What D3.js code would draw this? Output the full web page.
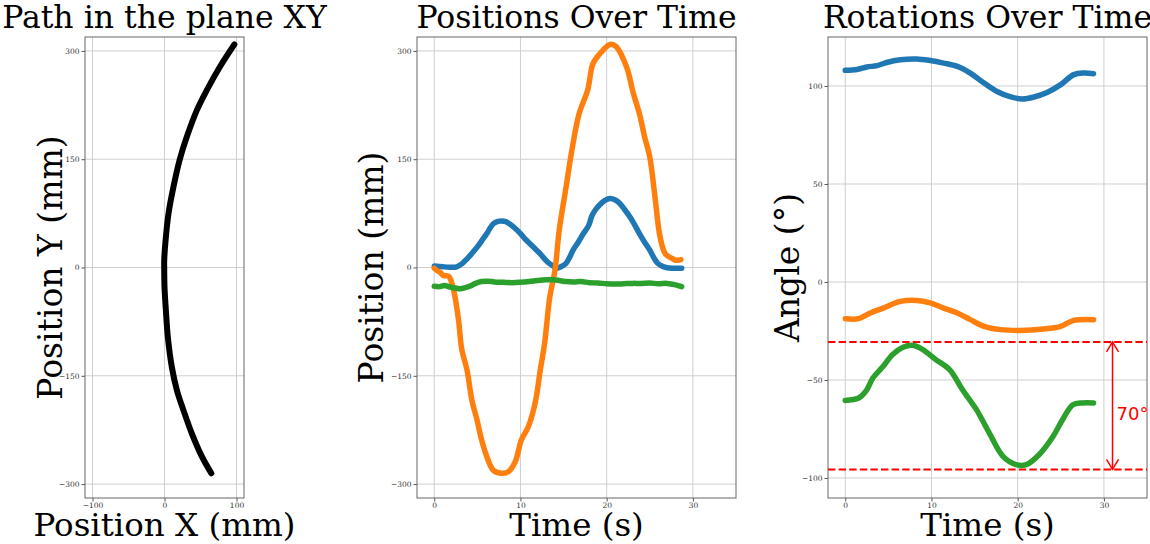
<!DOCTYPE html>
<html lang="en">
<head>
<meta charset="UTF-8">
<title>path positions rotations</title>
<script src="https://cdn.jsdelivr.net/npm/d3@7"></script>
<style>
  body { margin: 0; background: #fff; }
  svg { display: block; }
</style>
</head>
<body>
<svg></svg>
<script>
// ---- data ----
// path in XY plane (mm)
var pathX = [97, 77, 59, 45, 31, 21, 12.5, 5.6, 1.9, -0.4, -0.4, 0, 1.9, 4.6, 10.2, 17.2, 26.4, 38, 52, 65];
var pathY = [309, 278, 246, 218, 181, 149, 112, 75, 42, 10, 1, -27, -59, -96, -138, -170, -198, -230, -262, -285];

// positions over time
var posXTime = [0, 1, 1.8, 2.6, 3.2, 3.8, 4.4, 5.0, 5.5, 6.1, 6.5, 6.9, 7.4, 7.8, 8.3, 8.8, 9.4, 10.0, 10.5, 11.1, 11.7, 12.3, 12.8, 13.3, 13.8, 14.1, 14.6, 15.0, 15.3, 15.7, 16.1, 16.7, 17.3, 17.9, 18.3, 18.7, 19.2, 19.8, 20.4, 21.0, 21.5, 22.1, 22.7, 23.3, 23.8, 24.4, 25.0, 25.5, 25.9, 26.4, 26.9, 27.6, 28.7];
var posX = [2, 1, 0.5, 1, 5, 12, 20, 28.5, 37, 47, 55, 61, 64, 64.5, 63.5, 60, 54, 47, 40, 33, 26, 19, 12, 6, 2, -1, 0.5, 3, 6, 14, 24, 35, 47, 58, 72, 80, 87, 93, 95.5, 93.5, 89, 80, 70, 58, 47, 35, 24, 13, 6, 2, 0, -1, -1];

var posYTime = [0, 0.3, 0.7, 1.07, 1.66, 2.05, 2.44, 2.82, 3.2, 3.8, 4.37, 4.96, 5.5, 6.1, 6.86, 7.83, 8.6, 9.4, 10.1, 10.9, 11.7, 12.3, 12.8, 13.4, 14.0, 14.5, 15.3, 15.9, 16.8, 17.8, 18.4, 19.2, 20.4, 21.1, 22.3, 23.1, 23.8, 24.4, 25.0, 25.6, 26.2, 26.8, 27.6, 28.0, 28.6];
var posY = [-1, -4, -7, -11, -12, -22, -43, -73, -114, -142, -184, -211, -239, -262, -281, -285, -283, -269, -239, -221, -188, -142, -105, -41, -4, 52, 112, 158, 213, 246, 282, 296, 309, 306, 278, 241, 213, 181, 153, 98, 42, 19, 12.5, 10, 11];

var posZTime = [0, 0.6, 1.2, 1.8, 2.4, 3, 3.6, 4.2, 4.8, 5.5, 6.2, 7, 8, 9, 10, 11, 12, 13, 13.8, 14.5, 15.3, 16.2, 17, 18, 19, 20, 21, 22, 23, 24, 25, 26, 27, 28, 28.7];
var posZ = [-26, -26.5, -25, -27, -28.5, -29.5, -28, -25.5, -22, -19.5, -19, -20, -20.5, -21, -20.5, -19.5, -18, -17, -17, -18, -19.5, -20, -19.5, -21, -21.5, -22.5, -23, -22.5, -22, -22, -21.5, -22.5, -22, -24, -26.5];

// rotations over time (degrees)
var rotXTime = [0, 1.35, 2.5, 3.7, 4.8, 6.4, 8.3, 9.85, 11.4, 13.0, 14.5, 16.1, 17.6, 19.2, 20.5, 21.9, 23.4, 25.0, 26.5, 27.7, 28.8];
var rotX = [108, 108.4, 109.7, 110.4, 112, 113.4, 113.8, 113, 111.7, 110, 106.6, 101.5, 97.2, 94.4, 93.4, 94.4, 96.7, 100.7, 105.8, 106.6, 106.3];

var rotYTime = [0, 1.55, 2.9, 4.4, 6.4, 8.3, 9.85, 11.4, 13.0, 14.5, 16.1, 18.0, 20.3, 23.0, 25.0, 26.5, 28.8];
var rotY = [-18.7, -18.7, -15.8, -13.3, -9.9, -9.4, -10.7, -13.3, -15.8, -19.2, -22.6, -24.3, -24.7, -24, -22.6, -19.6, -19.2];

var rotZTime = [0, 1.55, 2.5, 3.2, 4.4, 5.5, 6.7, 7.8, 9.0, 10.5, 12.1, 13.6, 15.2, 16.7, 18.3, 19.8, 21.0, 22.5, 24.1, 25.2, 26.4, 27.5, 28.8];
var rotZ = [-60.4, -59.2, -55, -49, -43, -37, -33.3, -32.3, -34.5, -39.6, -44.7, -55, -65, -77, -89, -93.2, -93.2, -88, -78.8, -70.3, -62.6, -61.7, -61.7];

// range annotation on the rotation plot
var rangeLines = [-30.6, -95.6];
var rangeArrowTime = 31;
var rangeLabel = '70°';
var rangeLabelAt = -67;

var seriesColors = ['#1f77b4', '#ff7f0e', '#2ca02c'];

// ---- drawing ----
var svg = d3.select('svg').attr('width', 1150).attr('height', 544);

function makePanel(p) {
  var x = d3.scaleLinear().domain(p.xDomain).range([p.left, p.right]);
  var y = d3.scaleLinear().domain(p.yDomain).range([p.bottom, p.top]);
  var g = svg.append('g');

  // grid
  g.append('g').selectAll('line').data(p.xTicks).enter().append('line')
    .attr('x1', function(d) { return x(d); }).attr('x2', function(d) { return x(d); })
    .attr('y1', p.top).attr('y2', p.bottom)
    .attr('stroke', '#cfcfcf').attr('stroke-width', 1);
  g.append('g').selectAll('line').data(p.yTicks).enter().append('line')
    .attr('y1', function(d) { return y(d); }).attr('y2', function(d) { return y(d); })
    .attr('x1', p.left).attr('x2', p.right)
    .attr('stroke', '#cfcfcf').attr('stroke-width', 1);

  var ax = g.append('g')
    .attr('transform', 'translate(0,' + p.bottom + ')')
    .call(d3.axisBottom(x).tickValues(p.xTicks).tickSize(3.5).tickPadding(1));
  var ay = g.append('g')
    .attr('transform', 'translate(' + p.left + ',0)')
    .call(d3.axisLeft(y).tickValues(p.yTicks).tickSize(3.5).tickPadding(2));
  [ax, ay].forEach(function(a) {
    a.select('.domain').remove();
    a.selectAll('line').attr('stroke', '#555');
    a.selectAll('text').attr('fill', '#333')
      .style('font-family', 'DejaVu Serif').style('font-size', '7.5px');
  });

  // frame
  g.append('rect')
    .attr('x', p.left).attr('y', p.top)
    .attr('width', p.right - p.left).attr('height', p.bottom - p.top)
    .attr('fill', 'none').attr('stroke', '#666').attr('stroke-width', 1);

  // title and axis labels
  var cx = (p.left + p.right) / 2;
  svg.append('text').attr('x', cx).attr('y', 28)
    .attr('text-anchor', 'middle')
    .style('font-family', 'DejaVu Serif').style('font-size', '31.5px')
    .text(p.title);
  svg.append('text').attr('x', cx).attr('y', 536)
    .attr('text-anchor', 'middle')
    .style('font-family', 'DejaVu Serif').style('font-size', '32.5px')
    .text(p.xLabel);
  svg.append('text')
    .attr('transform', 'translate(' + p.yLabelX + ',' + ((p.top + p.bottom) / 2) + ') rotate(-90)')
    .attr('text-anchor', 'middle')
    .style('font-family', 'DejaVu Serif').style('font-size', '33px')
    .text(p.yLabel);

  return { x: x, y: y, g: g };
}

function drawLine(panel, xs, ys, color, width) {
  var pts = xs.map(function(d, i) { return [d, ys[i]]; });
  var line = d3.line()
    .x(function(d) { return panel.x(d[0]); })
    .y(function(d) { return panel.y(d[1]); })
    .curve(d3.curveCatmullRom);
  panel.g.append('path')
    .datum(pts)
    .attr('fill', 'none')
    .attr('stroke', color)
    .attr('stroke-width', width)
    .attr('stroke-linejoin', 'round')
    .attr('stroke-linecap', 'round')
    .attr('d', line);
}

// panel 1: path in the plane
var p1 = makePanel({
  left: 85, right: 244, top: 37, bottom: 498,
  xDomain: [-110.4, 110.4], yDomain: [-319.3, 319.3],
  xTicks: [-100, 0, 100], yTicks: [-300, -150, 0, 150, 300],
  title: 'Path in the plane XY', xLabel: 'Position X (mm)', yLabel: 'Position Y (mm)', yLabelX: 62
});
drawLine(p1, pathX, pathY, '#000', 6);

// panel 2: positions
var p2 = makePanel({
  left: 417, right: 736, top: 37, bottom: 498,
  xDomain: [-2, 35], yDomain: [-319.3, 319.3],
  xTicks: [0, 10, 20, 30], yTicks: [-300, -150, 0, 150, 300],
  title: 'Positions Over Time', xLabel: 'Time (s)', yLabel: 'Position (mm)', yLabelX: 383
});
drawLine(p2, posXTime, posX, seriesColors[0], 5.5);
drawLine(p2, posYTime, posY, seriesColors[1], 5.5);
drawLine(p2, posZTime, posZ, seriesColors[2], 5.5);

// panel 3: rotations
var p3 = makePanel({
  left: 828, right: 1147, top: 37, bottom: 498,
  xDomain: [-2, 35], yDomain: [-110.2, 125],
  xTicks: [0, 10, 20, 30], yTicks: [-100, -50, 0, 50, 100],
  title: 'Rotations Over Time', xLabel: 'Time (s)', yLabel: 'Angle (°)', yLabelX: 799
});
drawLine(p3, rotXTime, rotX, seriesColors[0], 5.5);
drawLine(p3, rotYTime, rotY, seriesColors[1], 5.5);
drawLine(p3, rotZTime, rotZ, seriesColors[2], 5.5);

// dashed limits
p3.g.selectAll('.limit').data(rangeLines).enter().append('line')
  .attr('class', 'limit')
  .attr('x1', 828).attr('x2', 1147)
  .attr('y1', function(d) { return p3.y(d); }).attr('y2', function(d) { return p3.y(d); })
  .attr('stroke', 'red').attr('stroke-width', 2)
  .attr('stroke-dasharray', '7.4,3.2');

// double-headed arrow
var ax3 = p3.x(rangeArrowTime);
var yTop = p3.y(rangeLines[0]), yBot = p3.y(rangeLines[1]);
p3.g.append('line')
  .attr('x1', ax3).attr('x2', ax3).attr('y1', yTop).attr('y2', yBot)
  .attr('stroke', 'red').attr('stroke-width', 1.5);
p3.g.append('path')
  .attr('d', 'M' + (ax3 - 6) + ',' + (yTop + 10) + 'L' + ax3 + ',' + yTop + 'L' + (ax3 + 6) + ',' + (yTop + 10) +
             'M' + (ax3 - 6) + ',' + (yBot - 10) + 'L' + ax3 + ',' + yBot + 'L' + (ax3 + 6) + ',' + (yBot - 10))
  .attr('fill', 'none').attr('stroke', 'red').attr('stroke-width', 1.5);
p3.g.append('text')
  .attr('x', ax3 + 4).attr('y', p3.y(rangeLabelAt)).attr('dy', '0.35em')
  .attr('fill', 'red')
  .style('font-family', 'DejaVu Sans').style('font-size', '18px')
  .text(rangeLabel);
</script>
</body>
</html>
